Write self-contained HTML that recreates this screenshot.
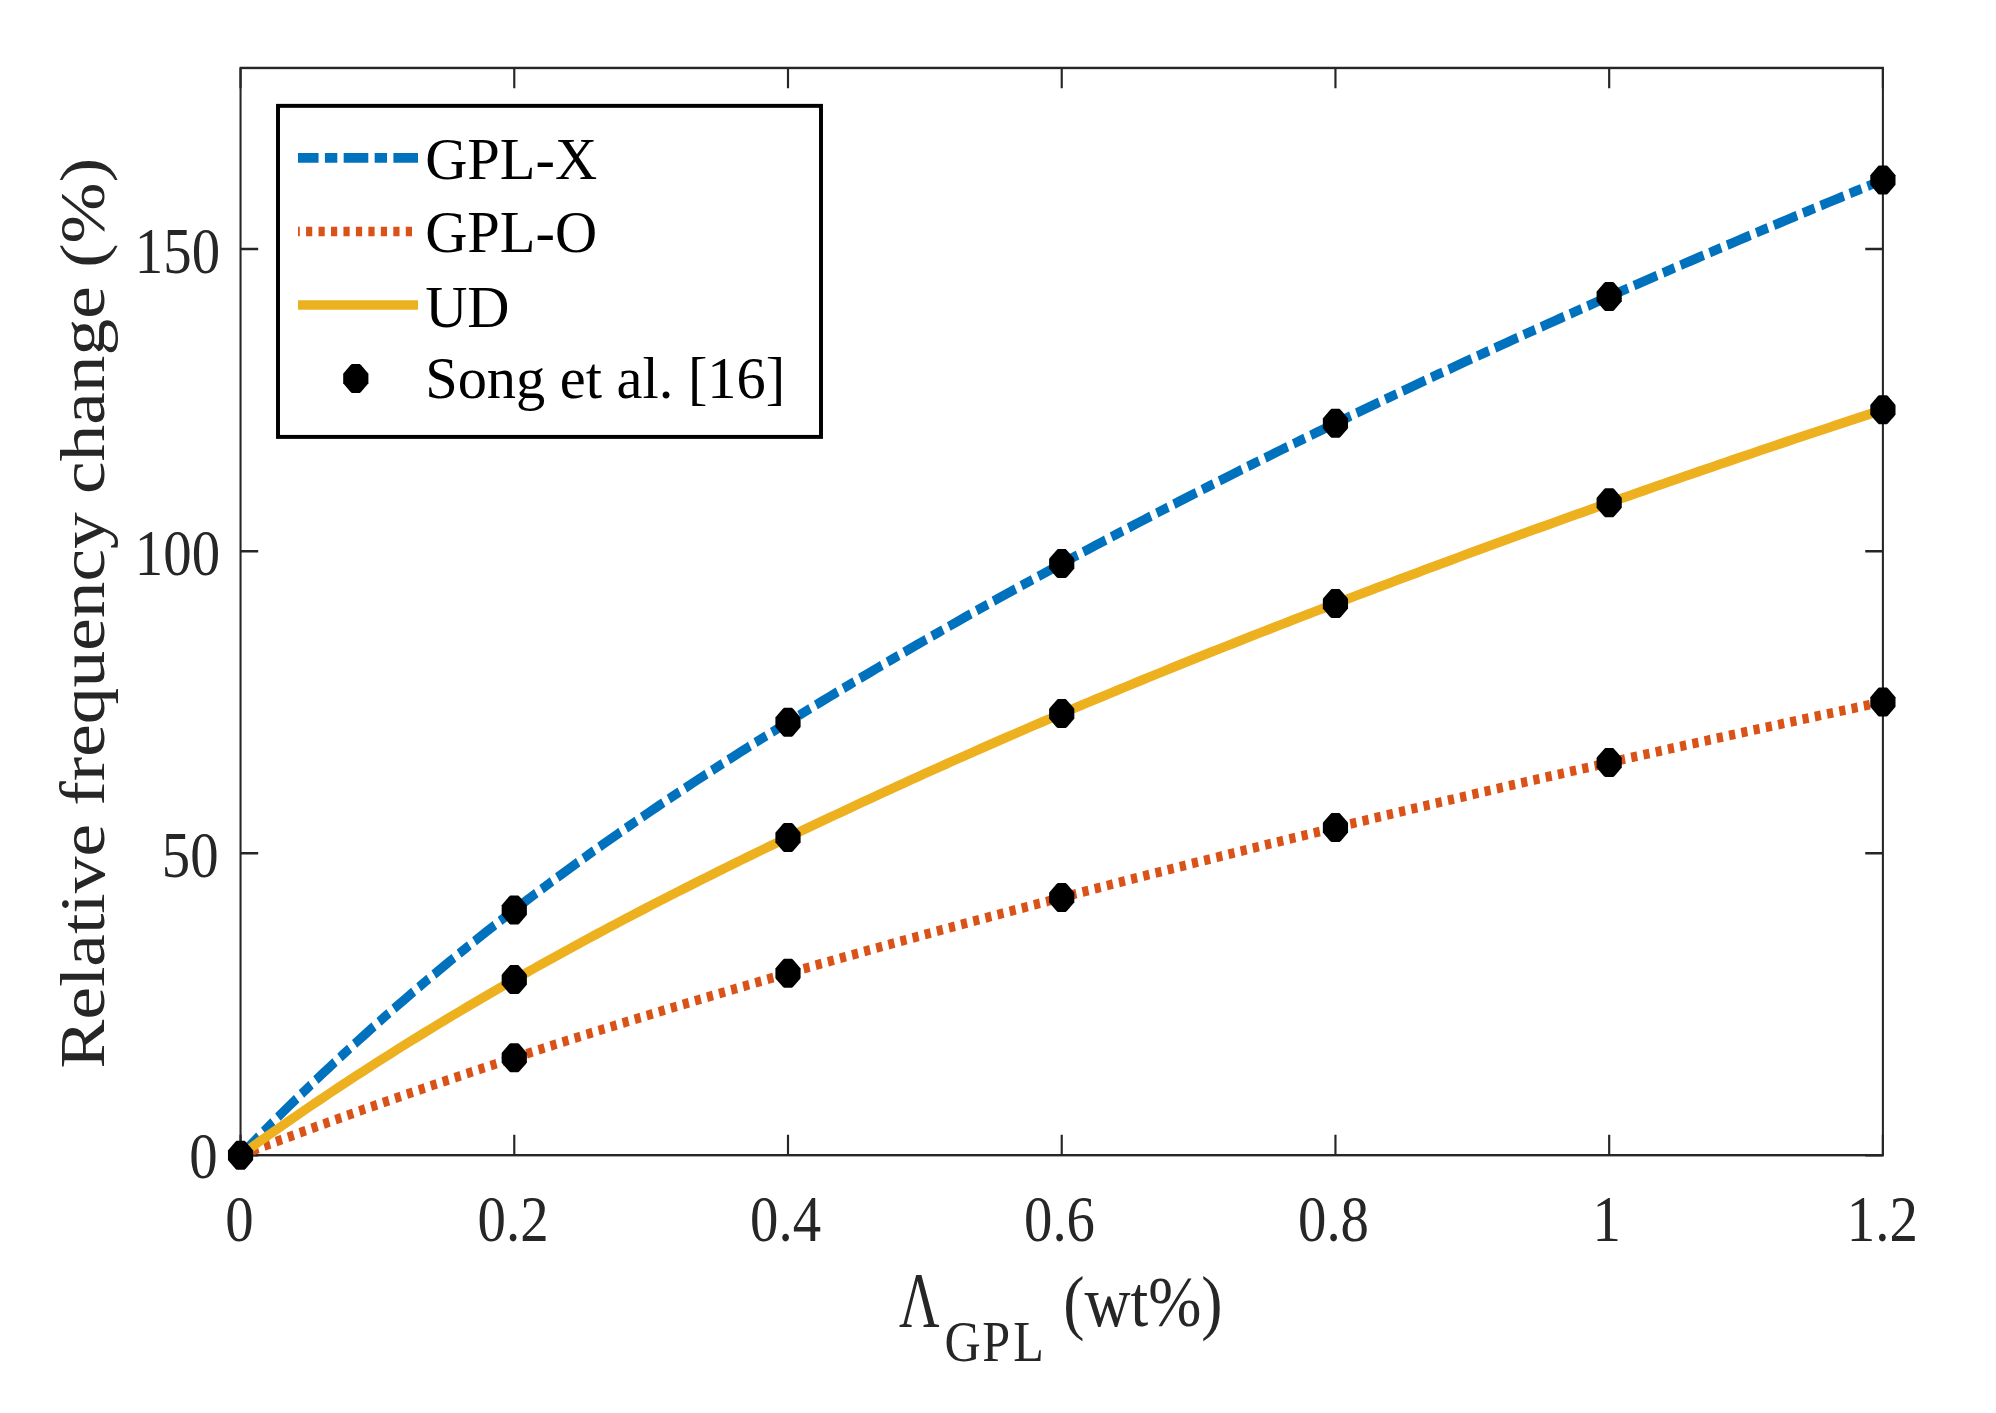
<!DOCTYPE html>
<html lang="en">
<head>
<meta charset="utf-8">
<title>Relative frequency change vs GPL weight fraction</title>
<style>
html,body{margin:0;padding:0;background:#fff;}
body{width:1996px;height:1413px;overflow:hidden;}
svg{display:block;}
</style>
</head>
<body>
<svg width="1996" height="1413" viewBox="0 0 1996 1413" font-family="'Liberation Serif', 'Times New Roman', serif">
<rect width="1996" height="1413" fill="#fff"/>
<g transform="scale(0.865,1)">
<g stroke="#262626" stroke-width="2.4" fill="none" stroke-linecap="square">
<rect x="278.09" y="67.95" width="1898.67" height="1087.25"/>
</g>
<g stroke="#262626" stroke-width="2.5" fill="none">
<path d="M278.09 1155.20v-20.4 M278.09 67.95v20.4"/>
<path d="M594.54 1155.20v-20.4 M594.54 67.95v20.4"/>
<path d="M910.98 1155.20v-20.4 M910.98 67.95v20.4"/>
<path d="M1227.43 1155.20v-20.4 M1227.43 67.95v20.4"/>
<path d="M1543.87 1155.20v-20.4 M1543.87 67.95v20.4"/>
<path d="M1860.32 1155.20v-20.4 M1860.32 67.95v20.4"/>
<path d="M2176.76 1155.20v-20.4 M2176.76 67.95v20.4"/>
<path d="M278.09 1155.20h20.4 M2176.76 1155.20h-20.4"/>
<path d="M278.09 853.17h20.4 M2176.76 853.17h-20.4"/>
<path d="M278.09 551.13h20.4 M2176.76 551.13h-20.4"/>
<path d="M278.09 249.10h20.4 M2176.76 249.10h-20.4"/>
</g>
<g fill="#262626" font-size="65.7">
<text x="276.71" y="1241.0" text-anchor="middle">0</text>
<text x="593.15" y="1241.0" text-anchor="middle">0.2</text>
<text x="908.21" y="1241.0" text-anchor="middle">0.4</text>
<text x="1224.88" y="1241.0" text-anchor="middle">0.6</text>
<text x="1541.62" y="1241.0" text-anchor="middle">0.8</text>
<text x="1857.43" y="1241.0" text-anchor="middle">1</text>
<text x="2176.18" y="1241.0" text-anchor="middle">1.2</text>
<text x="251.50" y="1178.35" text-anchor="end">0</text>
<text x="252.77" y="876.57" text-anchor="end">50</text>
<text x="254.39" y="574.73" text-anchor="end">100</text>
<text x="254.39" y="272.80" text-anchor="end">150</text>
</g>
<g fill="#262626">
<text transform="translate(1039.19,1326.4) scale(0.83,1)" font-size="78.0">Λ</text>
<text transform="translate(1092.02,1360.5) scale(1.0217,1)" x="0.00 42.60 77.68" font-size="56.7">GPL</text>
<text transform="translate(1229.13,1325.6) scale(1.017,1)" font-size="72.5">(wt%)</text>
<text transform="translate(120.58,613.2) rotate(-90)" font-size="73.4" text-anchor="middle">Relative frequency change (%)</text>
</g>
<g fill="none" stroke-width="9.7" stroke-linejoin="round">
<path d="M278.09 1155.20 L286.00 1148.10 L293.91 1141.06 L301.83 1134.07 L309.74 1127.14 L317.65 1120.27 L325.56 1113.44 L333.47 1106.67 L341.38 1099.96 L349.29 1093.29 L357.20 1086.68 L365.11 1080.12 L373.03 1073.61 L380.94 1067.15 L388.85 1060.74 L396.76 1054.38 L404.67 1048.07 L412.58 1041.80 L420.49 1035.59 L428.40 1029.42 L436.32 1023.30 L444.23 1017.22 L452.14 1011.19 L460.05 1005.21 L467.96 999.27 L475.87 993.37 L483.78 987.52 L491.69 981.71 L499.60 975.95 L507.52 970.22 L515.43 964.54 L523.34 958.90 L531.25 953.30 L539.16 947.74 L547.07 942.22 L554.98 936.74 L562.89 931.30 L570.80 925.89 L578.72 920.52 L586.63 915.19 L594.54 909.90 L602.45 904.64 L610.36 899.42 L618.27 894.23 L626.18 889.08 L634.09 883.96 L642.00 878.88 L649.92 873.82 L657.83 868.80 L665.74 863.81 L673.65 858.86 L681.56 853.93 L689.47 849.04 L697.38 844.17 L705.29 839.33 L713.20 834.53 L721.12 829.75 L729.03 825.00 L736.94 820.27 L744.85 815.57 L752.76 810.90 L760.67 806.26 L768.58 801.64 L776.49 797.04 L784.40 792.47 L792.32 787.92 L800.23 783.40 L808.14 778.90 L816.05 774.42 L823.96 769.96 L831.87 765.52 L839.78 761.10 L847.69 756.71 L855.60 752.33 L863.52 747.97 L871.43 743.63 L879.34 739.31 L887.25 735.01 L895.16 730.72 L903.07 726.45 L910.98 722.20 L918.89 717.96 L926.80 713.74 L934.72 709.53 L942.63 705.34 L950.54 701.16 L958.45 697.00 L966.36 692.85 L974.27 688.72 L982.18 684.60 L990.09 680.49 L998.01 676.40 L1005.92 672.33 L1013.83 668.27 L1021.74 664.22 L1029.65 660.19 L1037.56 656.17 L1045.47 652.16 L1053.38 648.17 L1061.29 644.19 L1069.21 640.23 L1077.12 636.28 L1085.03 632.34 L1092.94 628.42 L1100.85 624.50 L1108.76 620.61 L1116.67 616.72 L1124.58 612.85 L1132.49 608.98 L1140.41 605.14 L1148.32 601.30 L1156.23 597.48 L1164.14 593.67 L1172.05 589.87 L1179.96 586.08 L1187.87 582.30 L1195.78 578.54 L1203.69 574.79 L1211.61 571.05 L1219.52 567.32 L1227.43 563.60 L1235.34 559.89 L1243.25 556.20 L1251.16 552.51 L1259.07 548.84 L1266.98 545.18 L1274.89 541.53 L1282.81 537.89 L1290.72 534.26 L1298.63 530.64 L1306.54 527.03 L1314.45 523.43 L1322.36 519.84 L1330.27 516.26 L1338.18 512.70 L1346.09 509.14 L1354.01 505.59 L1361.92 502.05 L1369.83 498.53 L1377.74 495.01 L1385.65 491.50 L1393.56 488.00 L1401.47 484.52 L1409.38 481.04 L1417.29 477.57 L1425.21 474.11 L1433.12 470.66 L1441.03 467.22 L1448.94 463.79 L1456.85 460.36 L1464.76 456.95 L1472.67 453.55 L1480.58 450.15 L1488.49 446.76 L1496.41 443.39 L1504.32 440.02 L1512.23 436.66 L1520.14 433.31 L1528.05 429.96 L1535.96 426.63 L1543.87 423.30 L1551.78 419.98 L1559.70 416.67 L1567.61 413.37 L1575.52 410.08 L1583.43 406.79 L1591.34 403.51 L1599.25 400.24 L1607.16 396.98 L1615.07 393.73 L1622.98 390.48 L1630.90 387.24 L1638.81 384.01 L1646.72 380.79 L1654.63 377.57 L1662.54 374.36 L1670.45 371.16 L1678.36 367.97 L1686.27 364.79 L1694.18 361.61 L1702.10 358.44 L1710.01 355.27 L1717.92 352.12 L1725.83 348.97 L1733.74 345.83 L1741.65 342.69 L1749.56 339.57 L1757.47 336.45 L1765.38 333.33 L1773.30 330.23 L1781.21 327.13 L1789.12 324.03 L1797.03 320.95 L1804.94 317.87 L1812.85 314.80 L1820.76 311.73 L1828.67 308.67 L1836.58 305.62 L1844.50 302.57 L1852.41 299.53 L1860.32 296.50 L1868.23 293.47 L1876.14 290.45 L1884.05 287.44 L1891.96 284.43 L1899.87 281.43 L1907.78 278.43 L1915.70 275.44 L1923.61 272.46 L1931.52 269.48 L1939.43 266.51 L1947.34 263.55 L1955.25 260.59 L1963.16 257.63 L1971.07 254.68 L1978.98 251.74 L1986.90 248.80 L1994.81 245.87 L2002.72 242.95 L2010.63 240.03 L2018.54 237.11 L2026.45 234.20 L2034.36 231.30 L2042.27 228.40 L2050.18 225.51 L2058.10 222.62 L2066.01 219.74 L2073.92 216.86 L2081.83 213.99 L2089.74 211.12 L2097.65 208.26 L2105.56 205.40 L2113.47 202.55 L2121.39 199.70 L2129.30 196.86 L2137.21 194.02 L2145.12 191.19 L2153.03 188.36 L2160.94 185.53 L2168.85 182.71 L2176.76 179.90" stroke="#0072BD" stroke-dasharray="28.50 7.34 14.34 7.34"/>
<path d="M278.09 1155.20 L286.00 1152.57 L293.91 1149.95 L301.83 1147.35 L309.74 1144.75 L317.65 1142.17 L325.56 1139.59 L333.47 1137.03 L341.38 1134.47 L349.29 1131.93 L357.20 1129.40 L365.11 1126.87 L373.03 1124.36 L380.94 1121.86 L388.85 1119.36 L396.76 1116.88 L404.67 1114.41 L412.58 1111.94 L420.49 1109.49 L428.40 1107.04 L436.32 1104.61 L444.23 1102.18 L452.14 1099.77 L460.05 1097.36 L467.96 1094.96 L475.87 1092.57 L483.78 1090.19 L491.69 1087.82 L499.60 1085.46 L507.52 1083.11 L515.43 1080.77 L523.34 1078.43 L531.25 1076.11 L539.16 1073.79 L547.07 1071.48 L554.98 1069.18 L562.89 1066.89 L570.80 1064.60 L578.72 1062.33 L586.63 1060.06 L594.54 1057.80 L602.45 1055.55 L610.36 1053.31 L618.27 1051.07 L626.18 1048.84 L634.09 1046.62 L642.00 1044.41 L649.92 1042.21 L657.83 1040.01 L665.74 1037.82 L673.65 1035.64 L681.56 1033.47 L689.47 1031.30 L697.38 1029.14 L705.29 1026.99 L713.20 1024.84 L721.12 1022.70 L729.03 1020.57 L736.94 1018.45 L744.85 1016.33 L752.76 1014.22 L760.67 1012.11 L768.58 1010.01 L776.49 1007.92 L784.40 1005.84 L792.32 1003.76 L800.23 1001.69 L808.14 999.62 L816.05 997.56 L823.96 995.51 L831.87 993.46 L839.78 991.42 L847.69 989.38 L855.60 987.35 L863.52 985.33 L871.43 983.31 L879.34 981.30 L887.25 979.29 L895.16 977.29 L903.07 975.29 L910.98 973.30 L918.89 971.31 L926.80 969.33 L934.72 967.36 L942.63 965.39 L950.54 963.42 L958.45 961.46 L966.36 959.51 L974.27 957.56 L982.18 955.61 L990.09 953.67 L998.01 951.74 L1005.92 949.81 L1013.83 947.88 L1021.74 945.96 L1029.65 944.04 L1037.56 942.13 L1045.47 940.22 L1053.38 938.32 L1061.29 936.42 L1069.21 934.53 L1077.12 932.64 L1085.03 930.75 L1092.94 928.87 L1100.85 926.99 L1108.76 925.12 L1116.67 923.25 L1124.58 921.39 L1132.49 919.53 L1140.41 917.67 L1148.32 915.82 L1156.23 913.97 L1164.14 912.13 L1172.05 910.28 L1179.96 908.45 L1187.87 906.61 L1195.78 904.78 L1203.69 902.96 L1211.61 901.13 L1219.52 899.32 L1227.43 897.50 L1235.34 895.69 L1243.25 893.88 L1251.16 892.07 L1259.07 890.27 L1266.98 888.47 L1274.89 886.68 L1282.81 884.89 L1290.72 883.10 L1298.63 881.31 L1306.54 879.53 L1314.45 877.75 L1322.36 875.98 L1330.27 874.21 L1338.18 872.44 L1346.09 870.67 L1354.01 868.91 L1361.92 867.15 L1369.83 865.40 L1377.74 863.65 L1385.65 861.90 L1393.56 860.15 L1401.47 858.41 L1409.38 856.67 L1417.29 854.94 L1425.21 853.21 L1433.12 851.48 L1441.03 849.75 L1448.94 848.03 L1456.85 846.31 L1464.76 844.59 L1472.67 842.88 L1480.58 841.17 L1488.49 839.46 L1496.41 837.76 L1504.32 836.06 L1512.23 834.36 L1520.14 832.66 L1528.05 830.97 L1535.96 829.29 L1543.87 827.60 L1551.78 825.92 L1559.70 824.24 L1567.61 822.56 L1575.52 820.89 L1583.43 819.22 L1591.34 817.55 L1599.25 815.89 L1607.16 814.23 L1615.07 812.57 L1622.98 810.91 L1630.90 809.26 L1638.81 807.61 L1646.72 805.97 L1654.63 804.32 L1662.54 802.68 L1670.45 801.05 L1678.36 799.41 L1686.27 797.78 L1694.18 796.15 L1702.10 794.53 L1710.01 792.90 L1717.92 791.28 L1725.83 789.66 L1733.74 788.05 L1741.65 786.44 L1749.56 784.83 L1757.47 783.22 L1765.38 781.62 L1773.30 780.02 L1781.21 778.42 L1789.12 776.83 L1797.03 775.24 L1804.94 773.65 L1812.85 772.06 L1820.76 770.48 L1828.67 768.90 L1836.58 767.32 L1844.50 765.74 L1852.41 764.17 L1860.32 762.60 L1868.23 761.03 L1876.14 759.47 L1884.05 757.91 L1891.96 756.35 L1899.87 754.79 L1907.78 753.24 L1915.70 751.68 L1923.61 750.14 L1931.52 748.59 L1939.43 747.05 L1947.34 745.50 L1955.25 743.97 L1963.16 742.43 L1971.07 740.90 L1978.98 739.37 L1986.90 737.84 L1994.81 736.31 L2002.72 734.79 L2010.63 733.27 L2018.54 731.75 L2026.45 730.23 L2034.36 728.72 L2042.27 727.21 L2050.18 725.70 L2058.10 724.20 L2066.01 722.69 L2073.92 721.19 L2081.83 719.69 L2089.74 718.20 L2097.65 716.70 L2105.56 715.21 L2113.47 713.72 L2121.39 712.24 L2129.30 710.75 L2137.21 709.27 L2145.12 707.79 L2153.03 706.32 L2160.94 704.84 L2168.85 703.37 L2176.76 701.90" stroke="#D95319" stroke-dasharray="7.17 7.24"/>
<path d="M278.09 1155.20 L286.00 1150.26 L293.91 1145.35 L301.83 1140.47 L309.74 1135.63 L317.65 1130.81 L325.56 1126.03 L333.47 1121.28 L341.38 1116.55 L349.29 1111.86 L357.20 1107.19 L365.11 1102.56 L373.03 1097.95 L380.94 1093.37 L388.85 1088.82 L396.76 1084.30 L404.67 1079.81 L412.58 1075.34 L420.49 1070.91 L428.40 1066.49 L436.32 1062.11 L444.23 1057.75 L452.14 1053.42 L460.05 1049.11 L467.96 1044.83 L475.87 1040.58 L483.78 1036.35 L491.69 1032.14 L499.60 1027.96 L507.52 1023.80 L515.43 1019.67 L523.34 1015.56 L531.25 1011.48 L539.16 1007.41 L547.07 1003.37 L554.98 999.36 L562.89 995.36 L570.80 991.39 L578.72 987.44 L586.63 983.51 L594.54 979.60 L602.45 975.71 L610.36 971.85 L618.27 968.00 L626.18 964.17 L634.09 960.36 L642.00 956.58 L649.92 952.81 L657.83 949.06 L665.74 945.33 L673.65 941.62 L681.56 937.92 L689.47 934.24 L697.38 930.59 L705.29 926.94 L713.20 923.32 L721.12 919.71 L729.03 916.12 L736.94 912.54 L744.85 908.98 L752.76 905.44 L760.67 901.91 L768.58 898.40 L776.49 894.90 L784.40 891.41 L792.32 887.94 L800.23 884.49 L808.14 881.04 L816.05 877.61 L823.96 874.20 L831.87 870.79 L839.78 867.40 L847.69 864.02 L855.60 860.66 L863.52 857.30 L871.43 853.96 L879.34 850.63 L887.25 847.30 L895.16 843.99 L903.07 840.69 L910.98 837.40 L918.89 834.12 L926.80 830.85 L934.72 827.59 L942.63 824.33 L950.54 821.09 L958.45 817.86 L966.36 814.63 L974.27 811.42 L982.18 808.22 L990.09 805.02 L998.01 801.84 L1005.92 798.66 L1013.83 795.50 L1021.74 792.34 L1029.65 789.19 L1037.56 786.06 L1045.47 782.93 L1053.38 779.81 L1061.29 776.70 L1069.21 773.60 L1077.12 770.52 L1085.03 767.44 L1092.94 764.36 L1100.85 761.30 L1108.76 758.25 L1116.67 755.21 L1124.58 752.18 L1132.49 749.15 L1140.41 746.14 L1148.32 743.13 L1156.23 740.14 L1164.14 737.15 L1172.05 734.18 L1179.96 731.21 L1187.87 728.25 L1195.78 725.30 L1203.69 722.36 L1211.61 719.43 L1219.52 716.51 L1227.43 713.60 L1235.34 710.70 L1243.25 707.80 L1251.16 704.92 L1259.07 702.04 L1266.98 699.18 L1274.89 696.32 L1282.81 693.47 L1290.72 690.63 L1298.63 687.80 L1306.54 684.97 L1314.45 682.16 L1322.36 679.35 L1330.27 676.55 L1338.18 673.76 L1346.09 670.97 L1354.01 668.20 L1361.92 665.43 L1369.83 662.67 L1377.74 659.91 L1385.65 657.17 L1393.56 654.43 L1401.47 651.69 L1409.38 648.97 L1417.29 646.25 L1425.21 643.54 L1433.12 640.83 L1441.03 638.13 L1448.94 635.44 L1456.85 632.76 L1464.76 630.08 L1472.67 627.40 L1480.58 624.74 L1488.49 622.07 L1496.41 619.42 L1504.32 616.77 L1512.23 614.12 L1520.14 611.48 L1528.05 608.85 L1535.96 606.22 L1543.87 603.60 L1551.78 600.98 L1559.70 598.37 L1567.61 595.76 L1575.52 593.16 L1583.43 590.56 L1591.34 587.97 L1599.25 585.38 L1607.16 582.80 L1615.07 580.22 L1622.98 577.65 L1630.90 575.08 L1638.81 572.52 L1646.72 569.96 L1654.63 567.41 L1662.54 564.86 L1670.45 562.32 L1678.36 559.78 L1686.27 557.25 L1694.18 554.72 L1702.10 552.20 L1710.01 549.69 L1717.92 547.17 L1725.83 544.67 L1733.74 542.16 L1741.65 539.67 L1749.56 537.17 L1757.47 534.69 L1765.38 532.20 L1773.30 529.73 L1781.21 527.25 L1789.12 524.79 L1797.03 522.32 L1804.94 519.87 L1812.85 517.41 L1820.76 514.97 L1828.67 512.52 L1836.58 510.08 L1844.50 507.65 L1852.41 505.22 L1860.32 502.80 L1868.23 500.38 L1876.14 497.97 L1884.05 495.56 L1891.96 493.15 L1899.87 490.76 L1907.78 488.36 L1915.70 485.97 L1923.61 483.59 L1931.52 481.21 L1939.43 478.83 L1947.34 476.46 L1955.25 474.10 L1963.16 471.74 L1971.07 469.38 L1978.98 467.03 L1986.90 464.68 L1994.81 462.34 L2002.72 460.01 L2010.63 457.67 L2018.54 455.35 L2026.45 453.03 L2034.36 450.71 L2042.27 448.39 L2050.18 446.09 L2058.10 443.78 L2066.01 441.49 L2073.92 439.19 L2081.83 436.90 L2089.74 434.62 L2097.65 432.34 L2105.56 430.06 L2113.47 427.79 L2121.39 425.53 L2129.30 423.27 L2137.21 421.01 L2145.12 418.76 L2153.03 416.51 L2160.94 414.27 L2168.85 412.03 L2176.76 409.80" stroke="#EDB120"/>
</g>
<g fill="#000">
<polygon points="273.47,1140.70 282.72,1140.70 284.34,1142.00 291.50,1149.20 292.66,1150.50 292.66,1160.00 291.50,1161.30 284.34,1168.50 282.72,1169.70 273.47,1169.70 271.85,1168.50 264.68,1161.30 263.53,1160.00 263.53,1150.50 264.68,1149.20 271.85,1142.00"/>
<polygon points="589.91,895.40 599.16,895.40 600.78,896.70 607.95,903.90 609.10,905.20 609.10,914.70 607.95,916.00 600.78,923.20 599.16,924.40 589.91,924.40 588.29,923.20 581.13,916.00 579.97,914.70 579.97,905.20 581.13,903.90 588.29,896.70"/>
<polygon points="906.36,707.70 915.61,707.70 917.23,709.00 924.39,716.20 925.55,717.50 925.55,727.00 924.39,728.30 917.23,735.50 915.61,736.70 906.36,736.70 904.74,735.50 897.57,728.30 896.42,727.00 896.42,717.50 897.57,716.20 904.74,709.00"/>
<polygon points="1222.80,549.10 1232.05,549.10 1233.67,550.40 1240.84,557.60 1241.99,558.90 1241.99,568.40 1240.84,569.70 1233.67,576.90 1232.05,578.10 1222.80,578.10 1221.18,576.90 1214.02,569.70 1212.86,568.40 1212.86,558.90 1214.02,557.60 1221.18,550.40"/>
<polygon points="1539.25,408.80 1548.50,408.80 1550.12,410.10 1557.28,417.30 1558.44,418.60 1558.44,428.10 1557.28,429.40 1550.12,436.60 1548.50,437.80 1539.25,437.80 1537.63,436.60 1530.46,429.40 1529.31,428.10 1529.31,418.60 1530.46,417.30 1537.63,410.10"/>
<polygon points="1855.69,282.00 1864.94,282.00 1866.56,283.30 1873.73,290.50 1874.88,291.80 1874.88,301.30 1873.73,302.60 1866.56,309.80 1864.94,311.00 1855.69,311.00 1854.08,309.80 1846.91,302.60 1845.75,301.30 1845.75,291.80 1846.91,290.50 1854.08,283.30"/>
<polygon points="2172.14,165.40 2181.39,165.40 2183.01,166.70 2190.17,173.90 2191.33,175.20 2191.33,184.70 2190.17,186.00 2183.01,193.20 2181.39,194.40 2172.14,194.40 2170.52,193.20 2163.35,186.00 2162.20,184.70 2162.20,175.20 2163.35,173.90 2170.52,166.70"/>
<polygon points="589.91,965.10 599.16,965.10 600.78,966.40 607.95,973.60 609.10,974.90 609.10,984.40 607.95,985.70 600.78,992.90 599.16,994.10 589.91,994.10 588.29,992.90 581.13,985.70 579.97,984.40 579.97,974.90 581.13,973.60 588.29,966.40"/>
<polygon points="906.36,822.90 915.61,822.90 917.23,824.20 924.39,831.40 925.55,832.70 925.55,842.20 924.39,843.50 917.23,850.70 915.61,851.90 906.36,851.90 904.74,850.70 897.57,843.50 896.42,842.20 896.42,832.70 897.57,831.40 904.74,824.20"/>
<polygon points="1222.80,699.10 1232.05,699.10 1233.67,700.40 1240.84,707.60 1241.99,708.90 1241.99,718.40 1240.84,719.70 1233.67,726.90 1232.05,728.10 1222.80,728.10 1221.18,726.90 1214.02,719.70 1212.86,718.40 1212.86,708.90 1214.02,707.60 1221.18,700.40"/>
<polygon points="1539.25,589.10 1548.50,589.10 1550.12,590.40 1557.28,597.60 1558.44,598.90 1558.44,608.40 1557.28,609.70 1550.12,616.90 1548.50,618.10 1539.25,618.10 1537.63,616.90 1530.46,609.70 1529.31,608.40 1529.31,598.90 1530.46,597.60 1537.63,590.40"/>
<polygon points="1855.69,488.30 1864.94,488.30 1866.56,489.60 1873.73,496.80 1874.88,498.10 1874.88,507.60 1873.73,508.90 1866.56,516.10 1864.94,517.30 1855.69,517.30 1854.08,516.10 1846.91,508.90 1845.75,507.60 1845.75,498.10 1846.91,496.80 1854.08,489.60"/>
<polygon points="2172.14,395.30 2181.39,395.30 2183.01,396.60 2190.17,403.80 2191.33,405.10 2191.33,414.60 2190.17,415.90 2183.01,423.10 2181.39,424.30 2172.14,424.30 2170.52,423.10 2163.35,415.90 2162.20,414.60 2162.20,405.10 2163.35,403.80 2170.52,396.60"/>
<polygon points="589.91,1043.30 599.16,1043.30 600.78,1044.60 607.95,1051.80 609.10,1053.10 609.10,1062.60 607.95,1063.90 600.78,1071.10 599.16,1072.30 589.91,1072.30 588.29,1071.10 581.13,1063.90 579.97,1062.60 579.97,1053.10 581.13,1051.80 588.29,1044.60"/>
<polygon points="906.36,958.80 915.61,958.80 917.23,960.10 924.39,967.30 925.55,968.60 925.55,978.10 924.39,979.40 917.23,986.60 915.61,987.80 906.36,987.80 904.74,986.60 897.57,979.40 896.42,978.10 896.42,968.60 897.57,967.30 904.74,960.10"/>
<polygon points="1222.80,883.00 1232.05,883.00 1233.67,884.30 1240.84,891.50 1241.99,892.80 1241.99,902.30 1240.84,903.60 1233.67,910.80 1232.05,912.00 1222.80,912.00 1221.18,910.80 1214.02,903.60 1212.86,902.30 1212.86,892.80 1214.02,891.50 1221.18,884.30"/>
<polygon points="1539.25,813.10 1548.50,813.10 1550.12,814.40 1557.28,821.60 1558.44,822.90 1558.44,832.40 1557.28,833.70 1550.12,840.90 1548.50,842.10 1539.25,842.10 1537.63,840.90 1530.46,833.70 1529.31,832.40 1529.31,822.90 1530.46,821.60 1537.63,814.40"/>
<polygon points="1855.69,748.10 1864.94,748.10 1866.56,749.40 1873.73,756.60 1874.88,757.90 1874.88,767.40 1873.73,768.70 1866.56,775.90 1864.94,777.10 1855.69,777.10 1854.08,775.90 1846.91,768.70 1845.75,767.40 1845.75,757.90 1846.91,756.60 1854.08,749.40"/>
<polygon points="2172.14,687.40 2181.39,687.40 2183.01,688.70 2190.17,695.90 2191.33,697.20 2191.33,706.70 2190.17,708.00 2183.01,715.20 2181.39,716.40 2172.14,716.40 2170.52,715.20 2163.35,708.00 2162.20,706.70 2162.20,697.20 2163.35,695.90 2170.52,688.70"/>
</g>
</g>
<rect x="278.0" y="105.85" width="543.00" height="331.05" fill="#fff" stroke="#000" stroke-width="3.95"/>
<g transform="scale(0.865,1)">
<g fill="none" stroke-width="9.7">
<path d="M344.51 157.85H483.24" stroke="#0072BD" stroke-dasharray="28.50 7.34 14.34 7.34" stroke-dashoffset="4.74"/>
<path d="M344.51 231.5H483.24" stroke="#D95319" stroke-dasharray="7.17 7.24" stroke-dashoffset="5.09"/>
<path d="M344.51 305.0H483.24" stroke="#EDB120"/>
</g>
<g fill="#000"><polygon points="406.71,364.00 415.95,364.00 417.57,365.30 424.74,372.50 425.90,373.80 425.90,383.30 424.74,384.60 417.57,391.80 415.95,393.00 406.71,393.00 405.09,391.80 397.92,384.60 396.76,383.30 396.76,373.80 397.92,372.50 405.09,365.30"/></g>
<g fill="#000" font-size="59.0">
<text transform="translate(491.56,178.80) scale(1.1443,1)">GPL-X</text>
<text transform="translate(491.56,252.00) scale(1.1443,1)">GPL-O</text>
<text transform="translate(491.56,326.70) scale(1.1443,1)">UD</text>
<text transform="translate(491.56,398.10) scale(1.1443,1)">Song et al. [16]</text>
</g>
</g>
</svg>
</body>
</html>
